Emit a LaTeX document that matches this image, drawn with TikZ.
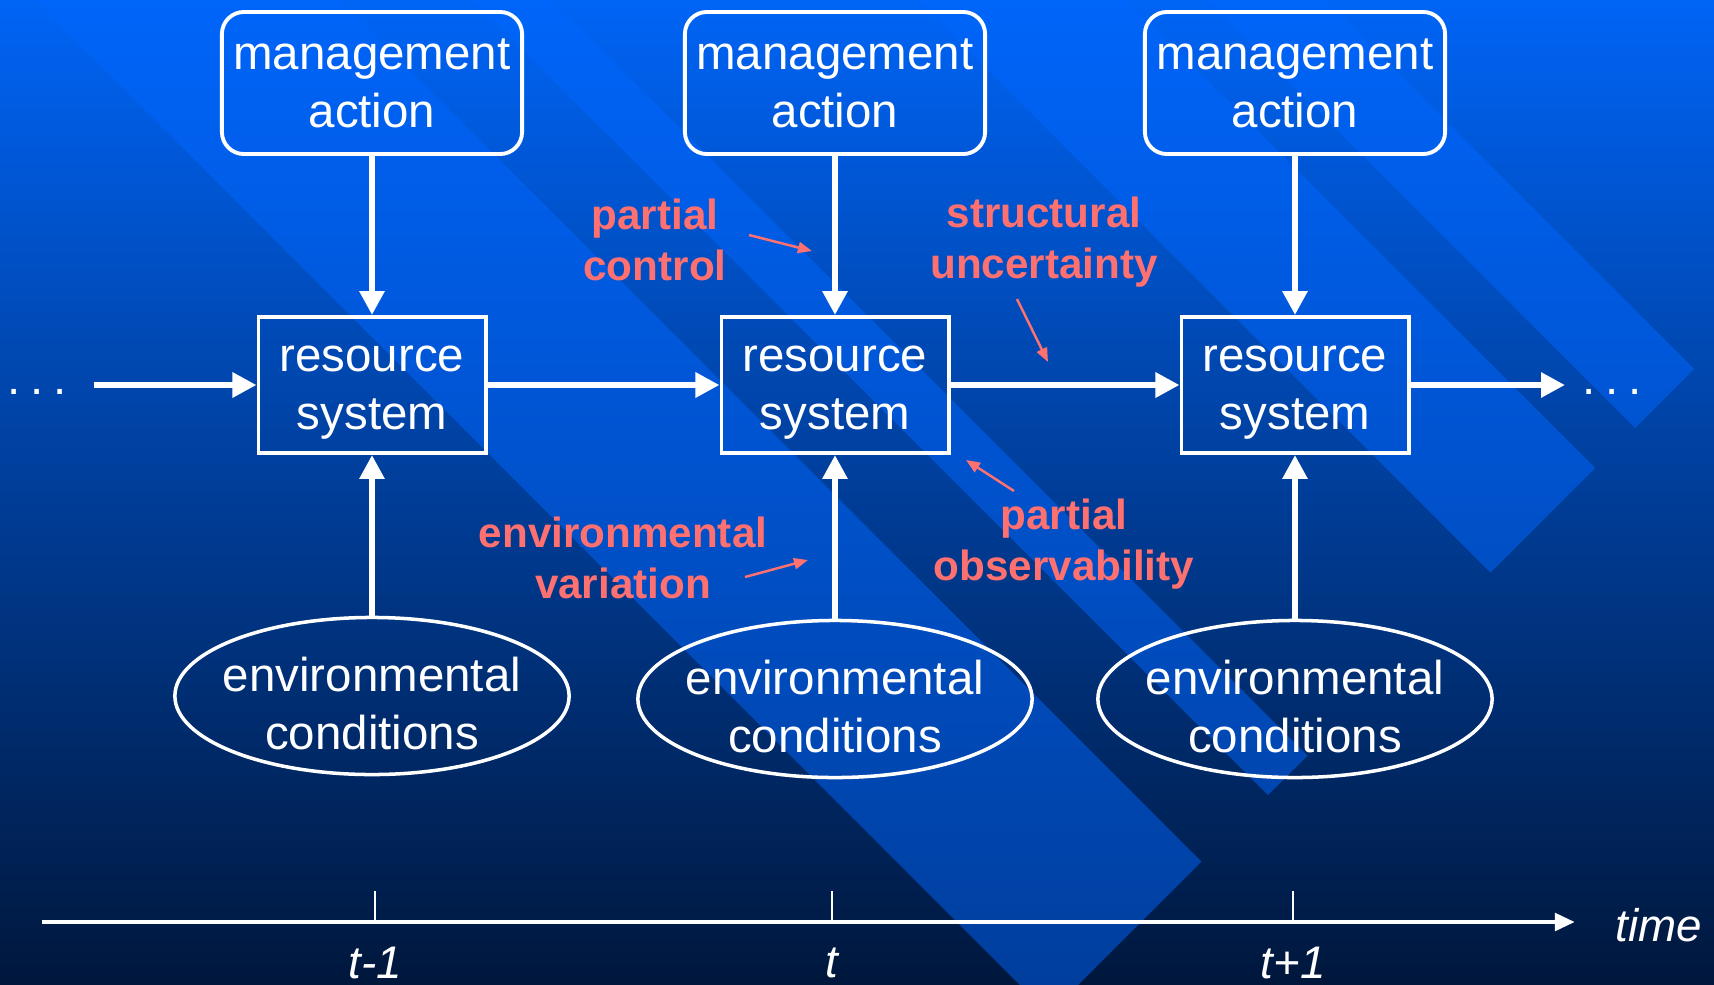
\documentclass[tikz,border=0pt]{standalone}
\usepackage{fontspec}
\setmainfont{Liberation Sans}
\usetikzlibrary{arrows.meta, shapes.geometric}
\definecolor{bgtop}{HTML}{0064F5}
\definecolor{bgmid}{HTML}{0045B0}
\definecolor{bgbottom}{HTML}{00173C}
\definecolor{stripe}{HTML}{0066FF}
\definecolor{salmon}{HTML}{FF7070}
% raises the top of the first line so the text sits lower in its frame
\newcommand{\padtop}[1]{\rule{0pt}{#1}}

\begin{document}
\begin{tikzpicture}[
  x=0.01cm, y=-0.01cm,
  boxfont/.style={font=\fontsize{13.5}{16.5}\selectfont, text=white, align=center},
  action/.style={
    boxfont, draw=white, line width=1.1pt, rounded corners=0.22cm,
    minimum width=3.0cm, minimum height=1.42cm, inner sep=1pt
  },
  system/.style={
    boxfont, draw=white, line width=1.1pt,
    minimum width=2.27cm, minimum height=1.36cm, inner sep=1pt
  },
  conditions/.style={
    boxfont, ellipse, draw=white, line width=1pt,
    minimum width=3.94cm, minimum height=1.57cm, inner xsep=-0.2cm, inner ysep=-0.15cm
  },
  ellipsis/.style={font=\fontsize{13.5}{16.5}\selectfont, text=white},
  flow/.style={-{Triangle[length=0.24cm, width=0.24cm]}, line width=1.85pt, white},
  remark/.style={font=\bfseries\fontsize{12}{14.5}\selectfont, text=salmon, align=center},
  pointer/.style={-{Triangle[length=0.14cm, width=0.11cm]}, line width=0.7pt, salmon},
  timeline/.style={-{Triangle[length=0.2cm, width=0.17cm]}, line width=1.4pt, white},
  timetick/.style={line width=0.6pt, white},
  timelabel/.style={font=\itshape\fontsize{13}{15}\selectfont, text=white},
  band/.style={fill=stripe, fill opacity=0.5}
]

% background and diagonal stripes
\useasboundingbox (0,0) rectangle (1714,984);
\shade[top color=bgtop, middle color=bgmid, bottom color=bgbottom] (0,0) rectangle (1714,984);
\begin{scope}
  \clip (0,0) rectangle (1714,984);
  \foreach \ca/\cb in {-1325/-1207, -1127/-918, -552/-473, -340/-35}
    \fill[band] ({-200-(\ca)},-200) -- ({(2063-(\ca))/2},{(2063+(\ca))/2})
      -- ({(2063-(\cb))/2},{(2063+(\cb))/2}) -- ({-200-(\cb)},-200) -- cycle;
\end{scope}

\node[action] (act1) at (372,83) {management\\action};
\node[action] (act2) at (835,83) {management\\action};
\node[action] (act3) at (1295,83) {management\\action};

\node[system] (sys1) at (372,385) {\padtop{11.4pt}resource\\system};
\node[system] (sys2) at (835,385) {\padtop{11.4pt}resource\\system};
\node[system] (sys3) at (1295,385) {\padtop{11.4pt}resource\\system};

\node[conditions] (env1) at (372,696) {\padtop{14.3pt}environmental\\conditions};
\node[conditions] (env2) at (835,699) {\padtop{14.3pt}environmental\\conditions};
\node[conditions] (env3) at (1295,699) {\padtop{14.3pt}environmental\\conditions};

\node[ellipsis, inner xsep=0.27cm] (before) at (37,392) {.\hspace{0.2em}.\hspace{0.2em}.};
\node[ellipsis, inner xsep=0.17cm] (after) at (1612,392) {.\hspace{0.2em}.\hspace{0.2em}.};

\draw[flow] (act1) -- (sys1);
\draw[flow] (act2) -- (sys2);
\draw[flow] (act3) -- (sys3);
\draw[flow] (env1) -- (sys1);
\draw[flow] (env2) -- (sys2);
\draw[flow] (env3) -- (sys3);
\draw[flow] (before.east |- sys1) -- (sys1);
\draw[flow] (sys1) -- (sys2);
\draw[flow] (sys2) -- (sys3);
\draw[flow] (sys3) -- (after.west |- sys3);

% sources of uncertainty
\node[remark] (control) at (655,240) {partial\\control};
\node[remark] (structure) at (1044,242) {structural\\uncertainty};
\node[remark] (variation) at (623,558) {environmental\\variation};
\node[remark] (observe) at (1064,544) {partial\\observability};

\coordinate (controlTail) at (749,235);
\coordinate (controlHead) at (812,251);
\coordinate (structureTail) at (1017,299);
\coordinate (structureHead) at (1048,362);
\coordinate (variationTail) at (745,577);
\coordinate (variationHead) at (808,560);
\coordinate (observeTail) at (1014,491);
\coordinate (observeHead) at (966,460);

\draw[pointer] (controlTail) -- (controlHead);
\draw[pointer] (structureTail) -- (structureHead);
\draw[pointer] (variationTail) -- (variationHead);
\draw[pointer] (observeTail) -- (observeHead);

% time axis
\coordinate (tstart) at (42,922);
\coordinate (tend) at (1575,922);
\draw[timeline] (tstart) -- (tend);
\node[timelabel] (time) at (1659,925) {time};

\node[timelabel] (tprev) at (375,963) {t-1};
\node[timelabel] (tnow) at (832,963) {t};
\node[timelabel] (tnext) at (1293,963) {t+1};
\draw[timetick] (tprev |- tstart) -- ++(0,-31);
\draw[timetick] (tnow |- tstart) -- ++(0,-31);
\draw[timetick] (tnext |- tstart) -- ++(0,-31);

\end{tikzpicture}
\end{document}
